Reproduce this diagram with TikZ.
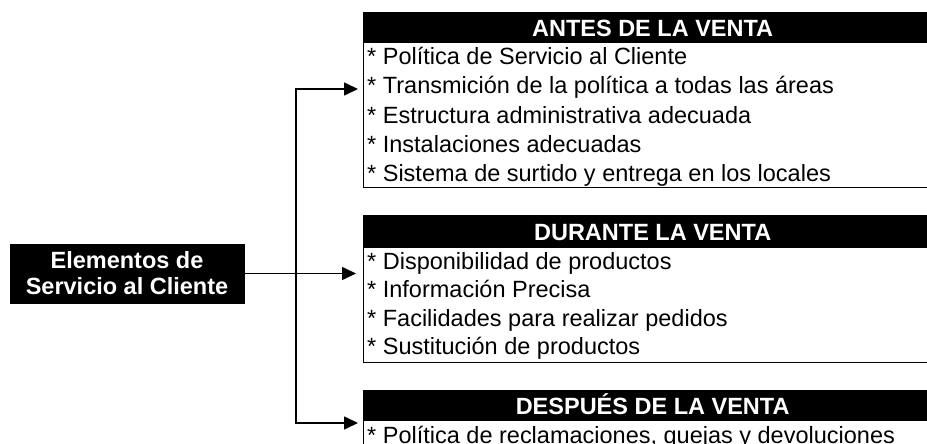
\documentclass[tikz,border=0pt]{standalone}
\usepackage{fontspec}
\setmainfont{Liberation Sans}
\usetikzlibrary{arrows.meta}
\begin{document}
\begin{tikzpicture}[x=1pt,y=1pt,
  panel/.style={draw=black, line width=1.3pt, rectangle, inner sep=0pt, minimum width=578pt, anchor=north west},
  header/.style={fill=black, draw=black, line width=1.3pt, text=white, inner sep=0pt, minimum width=578pt, minimum height=30pt, text height=16.8pt, text depth=0pt, anchor=north west, font=\fontsize{23.5}{26}\selectfont\bfseries},
  item/.style={anchor=base west, inner sep=0pt, font=\fontsize{23.5}{26}\selectfont},
  mainbox/.style={fill=black, draw=black, text=white, align=center, inner sep=0pt, minimum width=234pt, minimum height=59pt, font=\fontsize{23.5}{26}\selectfont\bfseries},
  conn/.style={line width=1.6pt, draw=black},
  tip/.style={-{Triangle[length=14pt,width=13pt]}}
]
\useasboundingbox (0,0) rectangle (927,-444);
\clip (0,0) rectangle (927,-444);

% left box
\node[mainbox] (client) at (127,-273.5) {Elementos de\\Servicio al Cliente};

% panels
\node[panel, minimum height=175pt] (antes) at (363,-12) {};
\node[header] (antesH) at (363,-12) {ANTES DE LA VENTA};
\node[item] (a1) at (367,-65) {* Política de Servicio al Cliente};
\node[item] (a2) at (367,-94) {* Transmición de la política a todas las áreas};
\node[item] (a3) at (367,-123) {* Estructura administrativa adecuada};
\node[item] (a4) at (367,-152) {* Instalaciones adecuadas};
\node[item] (a5) at (367,-181) {* Sistema de surtido y entrega en los locales};

\node[panel, minimum height=147pt] (durante) at (363,-215) {};
\node[header, minimum height=32pt] (duranteH) at (363,-215) {DURANTE LA VENTA};
\node[item] (d1) at (367,-269) {* Disponibilidad de productos};
\node[item] (d2) at (367,-297) {* Información Precisa};
\node[item] (d3) at (367,-326) {* Facilidades para realizar pedidos};
\node[item] (d4) at (367,-354) {* Sustitución de productos};

\node[panel, minimum height=200pt] (despues) at (363,-390) {};
\node[header] (despuesH) at (363,-390) {DESPUÉS DE LA VENTA};
\node[item] (p1) at (367,-443) {* Política de reclamaciones, quejas y devoluciones};

% connectors
\coordinate (j1) at (296,-89);
\coordinate (j3) at (296,-423);
\draw[conn, {Triangle[length=14pt,width=13pt]}-{Triangle[length=14pt,width=13pt]}, shorten <=5pt, shorten >=5pt]
  (antes.west |- j1) -- (j1) -- (j3) -- (despues.west |- j3);
\draw[conn, tip, shorten >=7pt] (client.east) -- (durante.west |- client.east);
\end{tikzpicture}
\end{document}
